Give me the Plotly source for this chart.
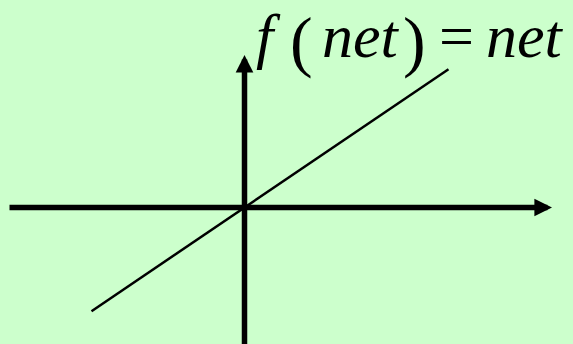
import plotly.graph_objects as go

# data: f(net) = net  (identity activation), sampled at the two line ends
net_vals = [-1.53, 2.04]
f_vals = [-1.53, 2.04]

# axis extents (data units)
x_axis_from, x_axis_to = -2.365, 3.075
y_axis_from, y_axis_to = -2.1, 2.25

W, H = 573, 344
ox, oy = 244.5, 207.5          # pixel position of origin
sx, sy = 100.0, 67.8           # pixels per unit

xr = [(0 - ox) / sx, (W - ox) / sx]
yr = [(oy - H) / sy, (oy - 0) / sy]

fig = go.Figure()
fig.add_trace(go.Scatter(x=net_vals, y=f_vals, mode="lines",
                         line=dict(color="black", width=2.5),
                         hoverinfo="skip", showlegend=False))

# axes with arrow heads
arrow_common = dict(showarrow=True, arrowhead=2, arrowcolor="black",
                    axref="x", ayref="y", xref="x", yref="y", text="")
fig.add_annotation(x=x_axis_to, y=0, ax=x_axis_from, ay=0,
                   arrowwidth=5.5, arrowsize=0.64, **arrow_common)
fig.add_annotation(x=0, y=y_axis_to, ax=0, ay=y_axis_from,
                   arrowwidth=5.5, arrowsize=0.64, **arrow_common)

# formula text pieces
def px2paper(px, py):
    return px / W, 1 - py / H

pieces = [
    ("<i>f</i>", 268, 36, 62),
    ("(", 301, 41, 68),
    ("<i>net</i>", 361, 36, 62),
    (")", 414, 41, 68),
    ("=", 456, 36, 62),
    ("<i>net</i>", 525, 36, 62),
]
for txt, px, py, fs in pieces:
    xp, yp = px2paper(px, py)
    fig.add_annotation(x=xp, y=yp, xref="paper", yref="paper", text=txt,
                       showarrow=False, xanchor="center", yanchor="middle",
                       borderpad=0,
                       font=dict(family="Liberation Serif", size=fs, color="black"))

fig.update_layout(
    width=W, height=H, margin=dict(l=0, r=0, t=0, b=0),
    paper_bgcolor="#CCFFCC", plot_bgcolor="#CCFFCC",
    xaxis=dict(range=xr, visible=False, fixedrange=True),
    yaxis=dict(range=yr, visible=False, fixedrange=True),
    showlegend=False,
)
fig.write_html("out.html", config={"displayModeBar": False},
               post_script="document.body.style.margin='0';"
                           "document.body.style.backgroundColor='#CCFFCC';")
